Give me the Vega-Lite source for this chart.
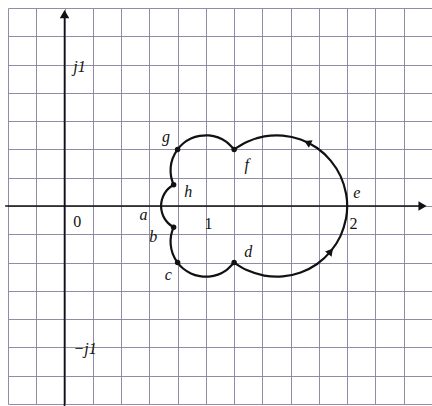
{
  "$schema": "https://vega.github.io/schema/vega-lite/v6.json",
  "width": 424,
  "height": 396,
  "autosize": "none",
  "padding": {"left": 8, "top": 8, "right": 0, "bottom": 2},
  "background": "white",
  "config": {
    "view": {"stroke": null},
    "axis": {"grid": true, "gridColor": "#86809e", "gridOpacity": 0.9, "gridWidth": 1,
             "labels": false, "ticks": false, "domain": false},
    "axisX": {"tickCount": 15},
    "axisY": {"tickCount": 14}
  },
  "datasets": {
    "one": [{"k": 1}],
    "curve": [
      {"seg": "hab", "i": 0, "re": 0.772, "im": 0.150},
      {"seg": "hab", "i": 1, "re": 0.733, "im": 0.121},
      {"seg": "hab", "i": 2, "re": 0.706, "im": 0.086},
      {"seg": "hab", "i": 3, "re": 0.689, "im": 0.044},
      {"seg": "hab", "i": 4, "re": 0.683, "im": 0.0},
      {"seg": "hab", "i": 5, "re": 0.689, "im": -0.044},
      {"seg": "hab", "i": 6, "re": 0.706, "im": -0.086},
      {"seg": "hab", "i": 7, "re": 0.733, "im": -0.121},
      {"seg": "hab", "i": 8, "re": 0.772, "im": -0.150},
      {"seg": "bcd", "i": 10, "re": 0.772, "im": -0.150},
      {"seg": "bcd", "i": 11, "re": 0.754, "im": -0.207},
      {"seg": "bcd", "i": 12, "re": 0.751, "im": -0.272},
      {"seg": "bcd", "i": 13, "re": 0.765, "im": -0.336},
      {"seg": "bcd", "i": 14, "re": 0.800, "im": -0.400},
      {"seg": "bcd", "i": 15, "re": 0.839, "im": -0.442},
      {"seg": "bcd", "i": 16, "re": 0.894, "im": -0.477},
      {"seg": "bcd", "i": 17, "re": 0.957, "im": -0.496},
      {"seg": "bcd", "i": 18, "re": 1.022, "im": -0.499},
      {"seg": "bcd", "i": 19, "re": 1.086, "im": -0.485},
      {"seg": "bcd", "i": 20, "re": 1.143, "im": -0.455},
      {"seg": "bcd", "i": 21, "re": 1.200, "im": -0.400},
      {"seg": "def", "i": 30, "re": 1.200, "im": -0.400},
      {"seg": "def", "i": 31, "re": 1.289, "im": -0.453},
      {"seg": "def", "i": 32, "re": 1.413, "im": -0.492},
      {"seg": "def", "i": 33, "re": 1.544, "im": -0.498},
      {"seg": "def", "i": 34, "re": 1.671, "im": -0.470},
      {"seg": "def", "i": 35, "re": 1.787, "im": -0.410},
      {"seg": "def", "i": 36, "re": 1.883, "im": -0.321},
      {"seg": "def", "i": 37, "re": 1.953, "im": -0.211},
      {"seg": "def", "i": 38, "re": 1.992, "im": -0.087},
      {"seg": "def", "i": 39, "re": 2.000, "im": 0.0},
      {"seg": "def", "i": 40, "re": 1.992, "im": 0.087},
      {"seg": "def", "i": 41, "re": 1.953, "im": 0.211},
      {"seg": "def", "i": 42, "re": 1.883, "im": 0.321},
      {"seg": "def", "i": 43, "re": 1.787, "im": 0.410},
      {"seg": "def", "i": 44, "re": 1.671, "im": 0.470},
      {"seg": "def", "i": 45, "re": 1.544, "im": 0.498},
      {"seg": "def", "i": 46, "re": 1.413, "im": 0.492},
      {"seg": "def", "i": 47, "re": 1.289, "im": 0.453},
      {"seg": "def", "i": 48, "re": 1.200, "im": 0.400},
      {"seg": "fgh", "i": 50, "re": 1.200, "im": 0.400},
      {"seg": "fgh", "i": 51, "re": 1.143, "im": 0.455},
      {"seg": "fgh", "i": 52, "re": 1.086, "im": 0.485},
      {"seg": "fgh", "i": 53, "re": 1.022, "im": 0.499},
      {"seg": "fgh", "i": 54, "re": 0.957, "im": 0.496},
      {"seg": "fgh", "i": 55, "re": 0.894, "im": 0.477},
      {"seg": "fgh", "i": 56, "re": 0.839, "im": 0.442},
      {"seg": "fgh", "i": 57, "re": 0.800, "im": 0.400},
      {"seg": "fgh", "i": 58, "re": 0.765, "im": 0.336},
      {"seg": "fgh", "i": 59, "re": 0.751, "im": 0.272},
      {"seg": "fgh", "i": 60, "re": 0.754, "im": 0.207},
      {"seg": "fgh", "i": 61, "re": 0.772, "im": 0.150}
    ],
    "dots": [
      {"name": "b", "re": 0.772, "im": -0.150},
      {"name": "c", "re": 0.800, "im": -0.400},
      {"name": "d", "re": 1.200, "im": -0.400},
      {"name": "f", "re": 1.200, "im": 0.400},
      {"name": "g", "re": 0.800, "im": 0.400},
      {"name": "h", "re": 0.772, "im": 0.150}
    ],
    "letters": [
      {"t": "a", "re": 0.558, "im": -0.065},
      {"t": "b", "re": 0.628, "im": -0.218},
      {"t": "c", "re": 0.734, "im": -0.490},
      {"t": "d", "re": 1.300, "im": -0.325},
      {"t": "e", "re": 2.068, "im": 0.089},
      {"t": "f", "re": 1.289, "im": 0.289},
      {"t": "g", "re": 0.718, "im": 0.489},
      {"t": "h", "re": 0.876, "im": 0.100},
      {"t": "j1", "re": 0.106, "im": 0.980},
      {"t": "−j1", "re": 0.145, "im": -1.013}
    ],
    "digits": [
      {"t": "0", "re": 0.090, "im": -0.112},
      {"t": "1", "re": 1.018, "im": -0.124},
      {"t": "2", "re": 2.044, "im": -0.124}
    ],
    "arrows": [
      {"pos": "upper", "re": 1.719, "im": 0.449},
      {"pos": "lower", "re": 1.883, "im": -0.321}
    ]
  },
  "layer": [
    {
      "data": {"name": "curve"},
      "mark": {"type": "line", "color": "#111111", "strokeWidth": 2.2, "interpolate": "catmull-rom"},
      "encoding": {
        "x": {"field": "re", "type": "quantitative", "title": null,
              "scale": {"domain": [-0.4, 2.6], "nice": false, "zero": false}},
        "y": {"field": "im", "type": "quantitative", "title": null,
              "scale": {"domain": [-1.4, 1.4], "nice": false, "zero": false}},
        "detail": {"field": "seg"},
        "order": {"field": "i", "type": "quantitative"}
      }
    },
    {
      "data": {"name": "one"},
      "mark": {"type": "rule", "color": "#111111", "strokeWidth": 1.6},
      "encoding": {
        "x": {"datum": 0, "type": "quantitative", "title": null},
        "y": {"datum": -1.42, "type": "quantitative", "title": null},
        "y2": {"datum": 1.36}
      }
    },
    {
      "data": {"name": "one"},
      "mark": {"type": "rule", "color": "#111111", "strokeWidth": 1.6},
      "encoding": {
        "x": {"datum": -0.42, "type": "quantitative", "title": null},
        "x2": {"datum": 2.52},
        "y": {"datum": 0, "type": "quantitative", "title": null}
      }
    },
    {
      "data": {"name": "one"},
      "mark": {"type": "point", "shape": "triangle-up", "filled": true, "color": "#111111", "size": 90, "opacity": 1},
      "encoding": {
        "x": {"datum": 0, "type": "quantitative", "title": null},
        "y": {"datum": 1.357, "type": "quantitative", "title": null}
      }
    },
    {
      "data": {"name": "one"},
      "mark": {"type": "point", "shape": "triangle-up", "filled": true, "color": "#111111", "size": 90, "opacity": 1, "angle": 90},
      "encoding": {
        "x": {"datum": 2.533, "type": "quantitative", "title": null},
        "y": {"datum": 0, "type": "quantitative", "title": null}
      }
    },
    {
      "data": {"name": "dots"},
      "mark": {"type": "point", "filled": true, "color": "#111111", "size": 30, "opacity": 1},
      "encoding": {
        "x": {"field": "re", "type": "quantitative", "title": null},
        "y": {"field": "im", "type": "quantitative", "title": null}
      }
    },
    {
      "data": {"name": "arrows"},
      "transform": [{"filter": "datum.pos === 'upper'"}],
      "mark": {"type": "point", "shape": "triangle-up", "filled": true, "color": "#111111", "size": 70, "opacity": 1, "angle": 296},
      "encoding": {
        "x": {"field": "re", "type": "quantitative", "title": null},
        "y": {"field": "im", "type": "quantitative", "title": null}
      }
    },
    {
      "data": {"name": "arrows"},
      "transform": [{"filter": "datum.pos === 'lower'"}],
      "mark": {"type": "point", "shape": "triangle-up", "filled": true, "color": "#111111", "size": 70, "opacity": 1, "angle": 40},
      "encoding": {
        "x": {"field": "re", "type": "quantitative", "title": null},
        "y": {"field": "im", "type": "quantitative", "title": null}
      }
    },
    {
      "data": {"name": "letters"},
      "mark": {"type": "text", "font": "Liberation Serif", "fontStyle": "italic", "fontSize": 16, "color": "#111111", "align": "center", "baseline": "middle"},
      "encoding": {
        "x": {"field": "re", "type": "quantitative", "title": null},
        "y": {"field": "im", "type": "quantitative", "title": null},
        "text": {"field": "t"}
      }
    },
    {
      "data": {"name": "digits"},
      "mark": {"type": "text", "font": "Liberation Serif", "fontSize": 16, "color": "#111111", "align": "center", "baseline": "middle"},
      "encoding": {
        "x": {"field": "re", "type": "quantitative", "title": null},
        "y": {"field": "im", "type": "quantitative", "title": null},
        "text": {"field": "t"}
      }
    }
  ]
}
